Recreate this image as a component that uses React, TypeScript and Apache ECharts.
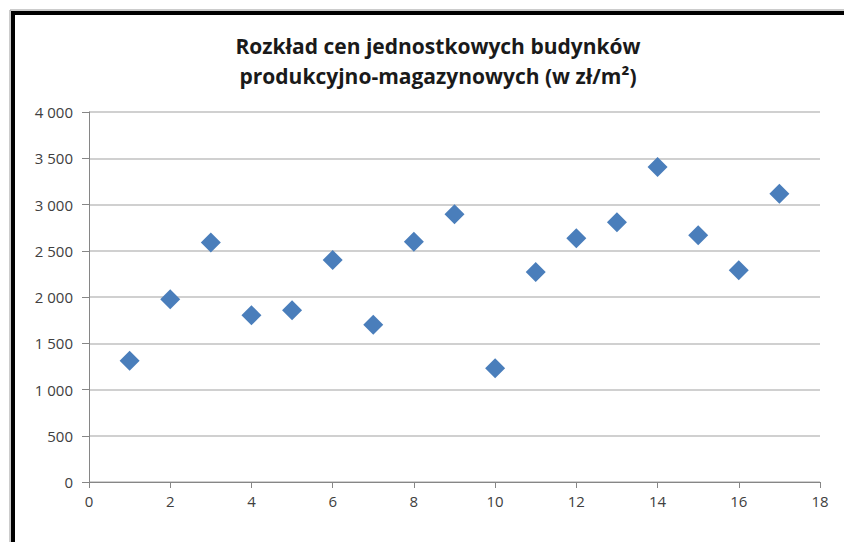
import React, { useEffect, useRef } from "react";
import * as echarts from "echarts";

const titleLines = ["Rozkład cen jednostkowych budynków", "produkcyjno-magazynowych (w zł/m²)"];
const xValues = [1, 2, 3, 4, 5, 6, 7, 8, 9, 10, 11, 12, 13, 14, 15, 16, 17];
const yValues = [1310, 1975, 2590, 1802, 1856, 2400, 1701, 2598, 2894, 1229, 2270, 2634, 2807, 3405, 2667, 2288, 3117];

const fmt = (v: number) => {
  const s = String(Math.round(v));
  return s.replace(/\B(?=(\d{3})+(?!\d))/g, " ");
};

export default function App() {
  const ref = useRef<HTMLDivElement>(null);
  useEffect(() => {
    if (!ref.current) return;
    const chart = echarts.init(ref.current, null, { renderer: "svg" });
    const data = xValues.map((x, i) => [x, yValues[i]]);
    chart.setOption({
      animation: false,
      backgroundColor: "#ffffff",
      title: {
        text: titleLines.join("\n"),
        left: 433,
        textAlign: "center",
        top: 26,
        textStyle: {
          fontFamily: "Open Sans",
          fontWeight: "bold",
          fontSize: 21,
          lineHeight: 30,
          color: "#1a1a1a",
        },
      },
      graphic: [
        { type: "line", shape: { x1: 10, y1: 10, x2: 844, y2: 10 }, style: { stroke: "#999", lineWidth: 1 } },
        { type: "line", shape: { x1: 10, y1: 10, x2: 10, y2: 542 }, style: { stroke: "#999", lineWidth: 1 } },
        { type: "line", shape: { x1: 11, y1: 13, x2: 844, y2: 13 }, style: { stroke: "#000", lineWidth: 4 } },
        { type: "line", shape: { x1: 13, y1: 11, x2: 13, y2: 542 }, style: { stroke: "#000", lineWidth: 4 } },
      ],
      grid: { left: 89, right: 24, top: 112, bottom: 60, containLabel: false },
      xAxis: {
        type: "value",
        min: 0,
        max: 18,
        interval: 2,
        axisLine: { show: true, lineStyle: { color: "#868686", width: 1 } },
        axisTick: { show: true, length: 6, inside: false, lineStyle: { color: "#868686" } },
        splitLine: { show: false },
        axisLabel: {
          color: "#404040",
          fontFamily: "Open Sans",
          fontSize: 15,
          margin: 11,
        },
      },
      yAxis: {
        type: "value",
        min: 0,
        max: 4000,
        interval: 500,
        axisLine: { show: true, lineStyle: { color: "#868686", width: 1 } },
        axisTick: { show: true, length: 7, lineStyle: { color: "#868686" } },
        splitLine: { show: true, lineStyle: { color: "#c0c0c0", width: 1.5 } },
        axisLabel: {
          color: "#404040",
          fontFamily: "Open Sans",
          fontSize: 15,
          margin: 16,
          formatter: (v: number) => fmt(v),
        },
      },
      series: [
        {
          type: "scatter",
          data,
          symbol: "diamond",
          symbolSize: 20,
          itemStyle: { color: "#4a7ebb", opacity: 1 },
        },
      ],
    });
    return () => chart.dispose();
  }, []);
  return (
    <div
      ref={ref}
      style={{ position: "fixed", left: 0, top: 0, width: 844, height: 542 }}
    />
  );
}
